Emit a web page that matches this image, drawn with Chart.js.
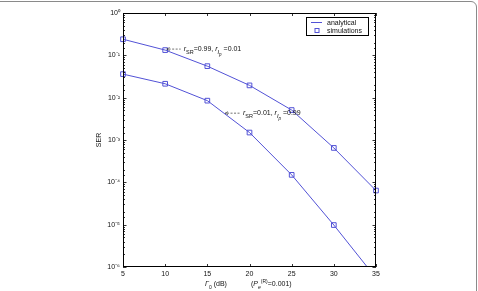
<!DOCTYPE html>
<html>
<head>
<meta charset="utf-8">
<script src="https://cdn.jsdelivr.net/npm/chart.js@4.4.1/dist/chart.umd.min.js"></script>
<style>
    html, body { margin: 0; padding: 0; background: #fff; overflow: hidden; }
    .frame { position: absolute; left: -10px; top: 1px; width: 485px; height: 330px; border: 1px solid #8a8a8a; border-radius: 6px; }
    .wrap { position: absolute; left: 0; top: 0; width: 478px; height: 291px; }
</style>
</head>
<body>
<div class="frame"></div>
<div class="wrap"><canvas id="serChart" width="478" height="291"></canvas></div>
<script>
const snrDb = [5, 10, 15, 20, 25, 30, 35];
const serHighSR = [0.24, 0.133, 0.0555, 0.0195, 0.0051, 6.5e-4, 6.4e-5];
const serLowSR = [0.036, 0.0213, 0.0085, 1.5e-3, 1.5e-4, 9.8e-6, 5.5e-7];
const yTickValues = [1, 1e-1, 1e-2, 1e-3, 1e-4, 1e-5, 1e-6];
const yTickLabels = ["10\u2070", "10\u207B\u00B9", "10\u207B\u00B2", "10\u207B\u00B3", "10\u207B\u2074", "10\u207B\u2075", "10\u207B\u2076"];
const legendLabels = ["analytical", "simulations"];

const lineColor = "#5252d6";
const fontFamily = "'Liberation Sans', Arial, sans-serif";

function toPoints(values) {
    return snrDb.map((x, i) => ({ x: x, y: values[i] }));
}

// draws text pieces with sub/superscript offsets, returns end x
function drawRich(ctx, parts, x, y) {
    parts.forEach((p) => {
        const size = p.size || 7;
        ctx.font = (p.italic ? "italic " : "") + size + "px " + fontFamily;
        ctx.fillText(p.t, x, y + (p.dy || 0));
        x += ctx.measureText(p.t).width;
    });
    return x;
}

function arrowLeft(ctx, x, y, len) {
    ctx.save();
    ctx.strokeStyle = "#333";
    ctx.lineWidth = 0.7;
    ctx.setLineDash([2, 1.5]);
    ctx.beginPath();
    ctx.moveTo(x + 2, y);
    ctx.lineTo(x + len, y);
    ctx.stroke();
    ctx.setLineDash([]);
    ctx.beginPath();
    ctx.moveTo(x, y);
    ctx.lineTo(x + 3, y - 1.5);
    ctx.moveTo(x, y);
    ctx.lineTo(x + 3, y + 1.5);
    ctx.stroke();
    ctx.restore();
}

const framePlugin = {
    id: "framePlugin",
    afterDraw(chart) {
        const ctx = chart.ctx;
        const area = chart.chartArea;
        const xs = chart.scales.x;
        const ys = chart.scales.y;

        ctx.save();
        ctx.strokeStyle = "#000";
        ctx.lineWidth = 1;
        ctx.strokeRect(area.left + 0.5, area.top + 0.5, area.width - 1, area.height - 1);

        // inward ticks on x (bottom and top)
        ctx.beginPath();
        snrDb.forEach((v) => {
            const px = Math.round(xs.getPixelForValue(v)) + 0.5;
            ctx.moveTo(px, area.bottom);
            ctx.lineTo(px, area.bottom - 3);
            ctx.moveTo(px, area.top);
            ctx.lineTo(px, area.top + 3);
        });
        // inward ticks on y (left and right), minor ones shorter
        ys.ticks.forEach((t) => {
            const py = Math.round(ys.getPixelForValue(t.value)) + 0.5;
            const major = yTickValues.includes(t.value);
            const len = major ? 3.5 : 2;
            ctx.moveTo(area.left, py);
            ctx.lineTo(area.left + len, py);
            ctx.moveTo(area.right, py);
            ctx.lineTo(area.right - len, py);
        });
        ctx.lineWidth = 0.8;
        ctx.stroke();

        // legend box
        const lx = area.right - 70, ly = area.top + 4, lw = 62, lh = 18;
        ctx.fillStyle = "#fff";
        ctx.fillRect(lx, ly, lw, lh);
        ctx.strokeStyle = "#000";
        ctx.lineWidth = 1;
        ctx.strokeRect(lx + 0.5, ly + 0.5, lw, lh);
        ctx.strokeStyle = lineColor;
        ctx.beginPath();
        ctx.moveTo(lx + 5, ly + 5.5);
        ctx.lineTo(lx + 16, ly + 5.5);
        ctx.stroke();
        ctx.strokeRect(lx + 9, ly + 11.5, 4, 4);
        ctx.fillStyle = "#111";
        ctx.textBaseline = "alphabetic";
        ctx.font = "7px " + fontFamily;
        ctx.fillText(legendLabels[0], lx + 21, ly + 8);
        ctx.fillText(legendLabels[1], lx + 21, ly + 16);

        // curve annotations
        const ax1 = xs.getPixelForValue(snrDb[1]) + 1.5;
        const ay1 = ys.getPixelForValue(serHighSR[1]) - 1;
        arrowLeft(ctx, ax1, ay1, 14);
        drawRich(ctx, [
            { t: "r", italic: true },
            { t: "SR", size: 5.5, dy: 2.5 },
            { t: "=0.99, " },
            { t: "r", italic: true },
            { t: "I", size: 5.5, dy: 2.5, italic: true },
            { t: "p", size: 4.5, dy: 4.5, italic: true },
            { t: " =0.01" }
        ], ax1 + 17, ay1 + 2);

        const ax2 = xs.getPixelForValue(17.1);
        const ay2 = ys.getPixelForValue(4.3e-3);
        arrowLeft(ctx, ax2, ay2, 15);
        drawRich(ctx, [
            { t: "r", italic: true },
            { t: "SR", size: 5.5, dy: 2.5 },
            { t: "=0.01, " },
            { t: "r", italic: true },
            { t: "I", size: 5.5, dy: 2.5, italic: true },
            { t: "p", size: 4.5, dy: 4.5, italic: true },
            { t: " =0.99" }
        ], ax2 + 18, ay2 + 2);

        // x axis title
        drawRich(ctx, [
            { t: "\u0393", italic: true },
            { t: "0", size: 5, dy: 2.5 },
            { t: " (dB)" }
        ], 205, 286);
        drawRich(ctx, [
            { t: "(" },
            { t: "P", italic: true },
            { t: "e", size: 5, dy: 3, italic: true },
            { t: "(R)", size: 5, dy: -3 },
            { t: "=0.001)" }
        ], 251, 286);
        ctx.restore();
    }
};

const markerClip = { left: 5, right: 5, top: 5, bottom: 0 };

new Chart(document.getElementById("serChart"), {
    type: "line",
    data: {
        datasets: [
            {
                label: "analytical",
                data: toPoints(serHighSR),
                borderColor: lineColor,
                borderWidth: 1,
                pointRadius: 0,
                tension: 0
            },
            {
                label: "analytical",
                data: toPoints(serLowSR),
                borderColor: lineColor,
                borderWidth: 1,
                pointRadius: 0,
                tension: 0
            },
            {
                label: "simulations",
                data: toPoints(serHighSR),
                showLine: false,
                clip: markerClip,
                pointStyle: "rect",
                pointRadius: 3.3,
                pointBorderWidth: 1,
                pointBorderColor: lineColor,
                pointBackgroundColor: "rgba(0,0,0,0)"
            },
            {
                label: "simulations",
                data: toPoints(serLowSR),
                showLine: false,
                clip: markerClip,
                pointStyle: "rect",
                pointRadius: 3.3,
                pointBorderWidth: 1,
                pointBorderColor: lineColor,
                pointBackgroundColor: "rgba(0,0,0,0)"
            }
        ]
    },
    options: {
        responsive: false,
        animation: false,
        layout: {
            padding: { left: 91, right: 102, top: 13, bottom: 0 }
        },
        plugins: {
            legend: { display: false },
            tooltip: { enabled: false }
        },
        scales: {
            x: {
                type: "linear",
                min: 5,
                max: 35,
                afterFit: (scale) => { scale.height = 24; },
                afterBuildTicks: (scale) => {
                    scale.ticks = snrDb.map((v) => ({ value: v }));
                },
                grid: { display: false, drawTicks: false },
                border: { display: false },
                ticks: {
                    padding: 3,
                    color: "#111",
                    font: { family: fontFamily, size: 7 }
                }
            },
            y: {
                type: "logarithmic",
                min: 1e-6,
                max: 1,
                afterFit: (scale) => { scale.width = 32; },
                grid: { display: false, drawTicks: false },
                border: { display: false },
                title: {
                    display: true,
                    text: "SER",
                    color: "#111",
                    font: { family: fontFamily, size: 7 }
                },
                ticks: {
                    autoSkip: false,
                    padding: 3,
                    color: "#111",
                    font: { family: fontFamily, size: 7 },
                    callback: (value) => {
                        const i = yTickValues.indexOf(value);
                        return i >= 0 ? yTickLabels[i] : "";
                    }
                }
            }
        }
    },
    plugins: [framePlugin]
});
</script>
</body>
</html>
